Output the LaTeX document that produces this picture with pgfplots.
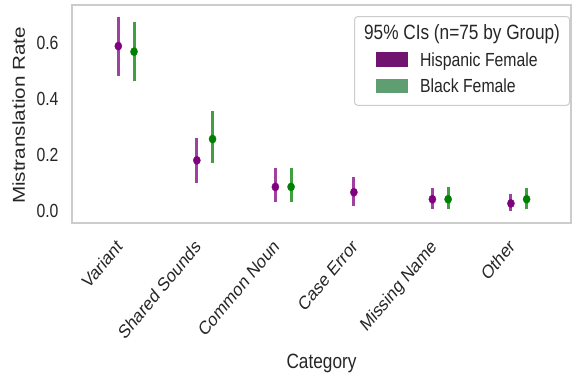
\documentclass[border=0pt]{standalone}
\usepackage{fontspec}
\setmainfont{Liberation Sans}
\usepackage{pgfplots}
\pgfplotsset{compat=1.18}
\definecolor{hisp}{HTML}{800080}
\definecolor{hispbar}{HTML}{A040A0}
\definecolor{blk}{HTML}{008000}
\definecolor{blkbar}{HTML}{40A040}
\definecolor{hisppatch}{HTML}{701470}
\definecolor{blkpatch}{HTML}{5F9E70}
\definecolor{spine}{HTML}{CCCCCC}
\definecolor{txt}{HTML}{262626}
\newcommand{\tickfont}{\fontsize{15.85}{19}\selectfont}
\newcommand{\labfont}{\fontsize{17.3}{20}\selectfont}
\begin{document}
\begin{tikzpicture}
\begin{axis}[name=ax, scale only axis, width=499bp, height=218bp,
  xmin=-0.69, xmax=5.665, ymin=-0.0429, ymax=0.7357,
  xtick={0,1,2,3,4,5},
  xticklabels={Variant,Shared Sounds,Common Noun,Case Error,Missing Name,Other},
  ytick={0,0.2,0.4,0.6},
  major tick length=0pt,
  axis line style={draw=spine, line width=1.5bp},
  tick label style={font=\tickfont, text=txt},
  yticklabel style={xshift=-10bp, yscale=1.2,
    /pgf/number format/fixed, /pgf/number format/fixed zerofill,
    /pgf/number format/precision=1, /pgf/number format/assume math mode=true},
  xticklabel style={xshift=-11bp, yshift=-15bp, yscale=1.2, rotate=45, anchor=north east, inner sep=0pt},
  xlabel={Category}, ylabel={Mistranslation Rate},
  every axis x label/.style={at={(rel axis cs:0.5,0)}, yshift=-145bp, yscale=1.2, anchor=base, font=\labfont, text=txt},
  every axis y label/.style={at={(rel axis cs:0,0.5)}, xshift=-47bp, yshift=-1.4bp, yscale=1.2, rotate=90, anchor=base, font=\labfont, text=txt},
]
% Hispanic Female: error bars (95% CI)
\addplot[draw=none, mark=none, forget plot, error bars/.cd, y dir=both, y explicit, error mark=none,
  error bar style={draw=hispbar, line width=3bp}] coordinates {
  (-0.1,0.589) += (0,0.105) -= (0,0.107)
  (0.9,0.181) += (0,0.081) -= (0,0.082)
  (1.9,0.086) += (0,0.066) -= (0,0.055)
  (2.9,0.067) += (0,0.053) -= (0,0.049)
  (3.9,0.042) += (0,0.039) -= (0,0.036)
  (4.9,0.027) += (0,0.034) -= (0,0.027)
};
% Black Female: error bars (95% CI)
\addplot[draw=none, mark=none, forget plot, error bars/.cd, y dir=both, y explicit, error mark=none,
  error bar style={draw=blkbar, line width=3bp}] coordinates {
  (0.1,0.569) += (0,0.105) -= (0,0.105)
  (1.1,0.257) += (0,0.100) -= (0,0.087)
  (2.1,0.086) += (0,0.066) -= (0,0.055)
  (4.1,0.042) += (0,0.045) -= (0,0.036)
  (5.1,0.042) += (0,0.039) -= (0,0.036)
};
% point estimates
\addplot[only marks, mark=*, mark size=3.6bp, mark options={fill=hisp, draw=hisp, line width=0.3bp, yscale=1.15}] coordinates {
  (-0.1,0.589) (0.9,0.181) (1.9,0.086) (2.9,0.067) (3.9,0.042) (4.9,0.027)
};
\addplot[only marks, mark=*, mark size=3.6bp, mark options={fill=blk, draw=blk, line width=0.3bp, yscale=1.15}] coordinates {
  (0.1,0.569) (1.1,0.257) (2.1,0.086) (4.1,0.042) (5.1,0.042)
};
\node[draw=spine, line width=1bp, rounded corners=3bp, fill=white, anchor=north east,
  inner xsep=9.5bp, inner ysep=3.7bp, xshift=-1bp, yshift=-11bp, yscale=1.2, text=txt]
  at (rel axis cs:1,1) {\fontsize{15.85}{22.25}\selectfont
  \begin{tabular}{@{\hspace{12.2bp}}l@{\hspace{12.2bp}}l@{}}
  \multicolumn{2}{@{}c@{}}{\fontsize{17.3}{22.25}\selectfont 95\% CIs (n=75 by Group)}\\
  \textcolor{hisppatch}{\rule[-0.2bp]{31.6bp}{11.7bp}} & Hispanic Female\\
  \textcolor{blkpatch}{\rule[-0.2bp]{31.6bp}{11.7bp}} & Black Female
  \end{tabular}};
\end{axis}
\pgfresetboundingbox
\path ([xshift=-72bp,yshift=-153bp]ax.south west) rectangle ([xshift=2bp,yshift=5bp]ax.north east);
\end{tikzpicture}
\end{document}
